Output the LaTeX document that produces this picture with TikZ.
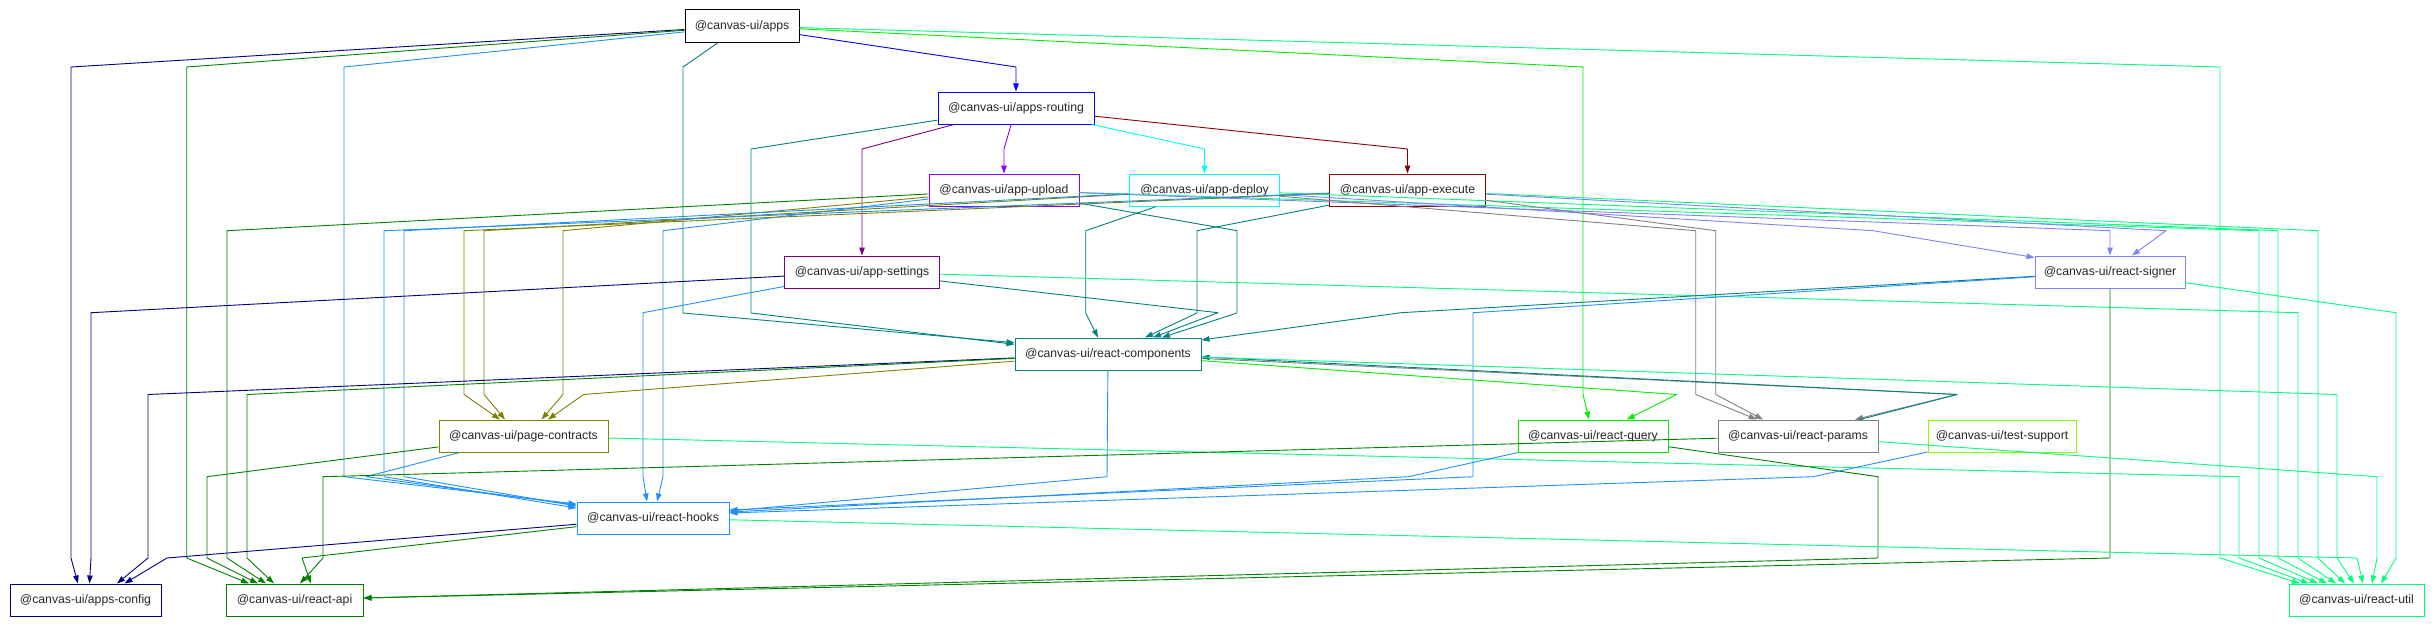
\documentclass[tikz,border=0pt]{standalone}
\usepackage{fontspec}
\setmainfont{Liberation Sans}
\usetikzlibrary{arrows.meta}
\definecolor{cApps}{HTML}{000000}
\definecolor{cRouting}{HTML}{0000FF}
\definecolor{cUpload}{HTML}{8B00FF}
\definecolor{cDeploy}{HTML}{00FFFF}
\definecolor{cExecute}{HTML}{8B0000}
\definecolor{cSettings}{HTML}{800080}
\definecolor{cSigner}{HTML}{8080FF}
\definecolor{cComp}{HTML}{008080}
\definecolor{cPage}{HTML}{808000}
\definecolor{cHooks}{HTML}{1E90FF}
\definecolor{cConfig}{HTML}{000080}
\definecolor{cApi}{HTML}{008000}
\definecolor{cQuery}{HTML}{00EE00}
\definecolor{cParams}{HTML}{808080}
\definecolor{cTest}{HTML}{7FFF00}
\definecolor{cUtil}{HTML}{00FF7F}
\begin{document}
\begin{tikzpicture}[x=1pt,y=-1pt,
  box/.style={draw, line width=1pt, minimum height=32pt, inner sep=0pt,
    font=\fontsize{12.2}{14}\selectfont, text=black!85},
  edge/.style={line width=0.9pt, line join=round, -{Triangle[length=8pt,width=5.5pt]}}]
\useasboundingbox (0,0) rectangle (2434,626);
% nodes
\node[box,draw=cApps,minimum width=114pt,minimum height=33pt] (apps) at (742,26) {@canvas-ui/apps};
\node[box,draw=cRouting,minimum width=156pt] (routing) at (1016,108) {@canvas-ui/apps-routing};
\node[box,draw=cUpload,minimum width=150pt] (upload) at (1004,190) {@canvas-ui/app-upload};
\node[box,draw=cDeploy,minimum width=150pt] (deploy) at (1204.5,190) {@canvas-ui/app-deploy};
\node[box,draw=cExecute,minimum width=156pt] (execute) at (1407.5,190) {@canvas-ui/app-execute};
\node[box,draw=cSettings,minimum width=155pt] (settings) at (862,272) {@canvas-ui/app-settings};
\node[box,draw=cSigner,minimum width=150pt] (signer) at (2110,272) {@canvas-ui/react-signer};
\node[box,draw=cComp,minimum width=186pt] (comp) at (1108,354) {@canvas-ui/react-components};
\node[box,draw=cPage,minimum width=169pt] (pagec) at (523.5,436) {@canvas-ui/page-contracts};
\node[box,draw=cQuery,minimum width=150pt] (query) at (1593,436) {@canvas-ui/react-query};
\node[box,draw=cParams,minimum width=160pt] (params) at (1798,436) {@canvas-ui/react-params};
\node[box,draw=cTest,minimum width=148pt] (testsup) at (2002,436) {@canvas-ui/test-support};
\node[box,draw=cHooks,minimum width=152pt] (hooks) at (653,518) {@canvas-ui/react-hooks};
\node[box,draw=cConfig,minimum width=151pt] (config) at (85.5,600) {@canvas-ui/apps-config};
\node[box,draw=cApi,minimum width=137pt] (api) at (294.5,600) {@canvas-ui/react-api};
\node[box,draw=cUtil,minimum width=135pt] (util) at (2356.5,600) {@canvas-ui/react-util};
% apps
\draw[edge,cRouting] (apps) -- (1016,67) -- (routing.north);
\draw[edge,cConfig] (apps) -- (71,67) -- (71,558) -- ([xshift=-7.5pt]config.north);
\draw[edge,cApi] (apps) -- (186.7,67) -- (186.7,558) -- ([xshift=-45.5pt]api.north);
\draw[edge,cHooks] (apps) -- (344,67) -- (344,476.7) -- ([yshift=14pt]hooks.west);
\draw[edge,cComp] (apps) -- (683,67) -- (683,313) -- ([yshift=11.3pt]comp.west);
\draw[edge,cQuery] (apps) -- (1583,67) -- (1583,394.5) -- ([xshift=-4pt]query.north);
\draw[edge,cUtil] (apps) -- (2220,67) -- (2220,558) -- ([xshift=-56.5pt]util.north);
% routing
\draw[edge,cExecute] (routing) -- (1407.5,149) -- (execute.north);
\draw[edge,cDeploy] (routing) -- (1204.5,149) -- (deploy.north);
\draw[edge,cUpload] (routing) -- (1004,149) -- (upload.north);
\draw[edge,cSettings] (routing) -- (862,149) -- (settings.north);
\draw[edge,cComp] (routing) -- (751,149) -- (751,313) -- ([yshift=9.7pt]comp.west);
% upload
\draw[edge,cApi] (upload) -- (227,230.7) -- (227,558) -- ([xshift=-28.5pt]api.north);
\draw[edge,cComp] (upload) -- (1237,230.7) -- (1237,313) -- ([xshift=54pt]comp.north);
\draw[edge,cPage] (upload) -- (563,230.7) -- (563,394.5) -- ([xshift=18pt]pagec.north);
\draw[edge,cHooks] (upload) -- (663,230.7) -- (663,476.7) -- ([xshift=4pt]hooks.north);
\draw[edge,cUtil] (upload) -- (2259,230.7) -- (2259,558) -- ([xshift=-38.5pt]util.north);
\draw[edge,cSigner] (upload) -- (2110,230.7) -- (signer.north);
% deploy
\draw[edge,cComp] (deploy) -- (1085.7,230.7) -- (1085.7,313) -- ([xshift=-10pt]comp.north);
\draw[edge,cPage] (deploy) -- (484,230.7) -- (484,394.5) -- ([xshift=-18.5pt]pagec.north);
\draw[edge,cHooks] (deploy) -- (404,230.7) -- (404,476.7) -- ([yshift=12pt]hooks.west);
\draw[edge,cUtil] (deploy) -- (2278,230.7) -- (2278,558) -- ([xshift=-29.5pt]util.north);
\draw[edge,cSigner] (deploy) -- (1873,230.7) -- ([yshift=-2pt]signer.north west);
\draw[edge,cParams] (deploy) -- (1695.7,230.7) -- (1695.7,394.5) -- ([xshift=-41.3pt]params.north);
% execute
\draw[edge,cComp] (execute) -- (1197,230.7) -- (1197,313) -- ([xshift=37pt]comp.north);
\draw[edge,cPage] (execute) -- (464,230.7) -- (464,394.5) -- ([xshift=-23.5pt]pagec.north);
\draw[edge,cHooks] (execute) -- (384,230.7) -- (384,476.7) -- ([yshift=10pt]hooks.west);
\draw[edge,cUtil] (execute) -- (2318,230.7) -- (2318,558) -- ([xshift=-11.5pt]util.north);
\draw[edge,cSigner] (execute) -- (2166,230.7) -- ([xshift=22pt]signer.north);
\draw[edge,cParams] (execute) -- (1715.7,230.7) -- (1715.7,394.5) -- ([xshift=-35pt]params.north);
% settings
\draw[edge,cConfig] (settings) -- (91,312.7) -- (91,558) -- ([xshift=4pt]config.north);
\draw[edge,cComp] (settings) -- (1218,312.7) -- ([xshift=45pt]comp.north);
\draw[edge,cHooks] (settings) -- (643,312.7) -- (643,476.7) -- ([xshift=-6pt]hooks.north);
\draw[edge,cUtil] (settings) -- (2298,312.7) -- (2298,558) -- ([xshift=-20.5pt]util.north);
% signer
\draw[edge,cComp] (signer) -- (1401,312.7) -- ([yshift=14pt]comp.east);
\draw[edge,cHooks] (signer) -- (1473,312.7) -- (1473,476.7) -- ([yshift=8pt]hooks.east);
\draw[edge,cUtil] (signer) -- (2396,312.7) -- (2396,558) -- ([xshift=24.5pt]util.north);
\draw[edge,cApi] (signer) -- (2110,558) -- ([yshift=2pt]api.east);
% components
\draw[edge,cConfig] (comp) -- (148,394.5) -- (148,558) -- ([xshift=31.5pt]config.north);
\draw[edge,cApi] (comp) -- (247,394.5) -- (247,558) -- ([xshift=-20.5pt]api.north);
\draw[edge,cPage] (comp) -- (583.6,394.5) -- ([xshift=24.5pt]pagec.north);
\draw[edge,cHooks] (comp) -- (1107,476.7) -- ([yshift=7pt]hooks.east);
\draw[edge,cQuery] (comp) -- (1676.7,394.5) -- ([xshift=33.7pt]query.north);
\draw[edge,cParams] (comp) -- (1957,394.5) -- ([xshift=57pt]params.north);
\draw[edge,cComp] ([xshift=62pt]params.north) -- (1957,394.5) -- ([yshift=-3pt]comp.east);
\draw[edge,cUtil] (comp) -- (2337,394.5) -- (2337,558) -- ([xshift=-2.5pt]util.north);
% page-contracts
\draw[edge,cApi] (pagec) -- (207,476.7) -- (207,558) -- ([xshift=-36.5pt]api.north);
\draw[edge,cHooks] (pagec) -- (366,476.7) -- ([yshift=13pt]hooks.west);
\draw[edge,cUtil] (pagec) -- (2239,476.7) -- (2239,558) -- ([xshift=-47.5pt]util.north);
% react-query
\draw[edge,cHooks] (query) -- (1408.5,476.7) -- ([yshift=6pt]hooks.east);
\draw[edge,cApi] (query) -- (1878,476.7) -- (1878,558) -- ([yshift=2pt]api.east);
% react-params
\draw[edge,cApi] (params) -- (323,476.7) -- (323,558) -- ([xshift=5.5pt]api.north);
\draw[edge,cUtil] (params) -- (2377,476.7) -- (2377,558) -- ([xshift=15.5pt]util.north);
% test-support
\draw[edge,cHooks] (testsup) -- (1813,476.7) -- ([yshift=5pt]hooks.east);
% react-hooks
\draw[edge,cConfig] (hooks) -- (167,558) -- ([xshift=39pt]config.north);
\draw[edge,cApi] (hooks) -- (302,558) -- ([xshift=16.5pt]api.north);
\draw[edge,cUtil] (hooks) -- (2357,558) -- ([xshift=6.5pt]util.north);
\end{tikzpicture}
\end{document}
